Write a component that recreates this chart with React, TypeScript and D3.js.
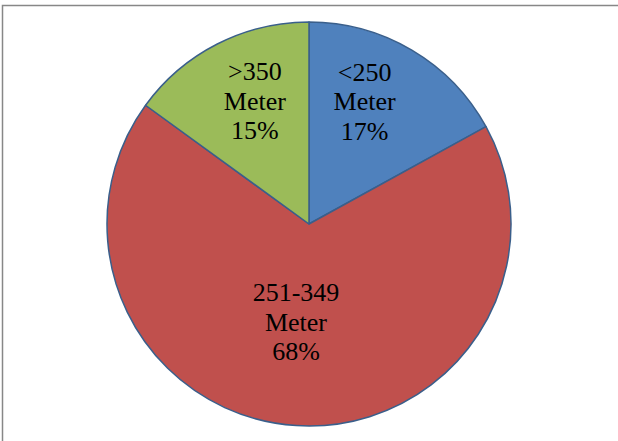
import React from 'react';
import * as d3 from 'd3';

const categories = ['<250 Meter', '251-349 Meter', '>350 Meter'];
const values = [17, 68, 15];
const colors = ['#4f81bd', '#c0504d', '#9bbb59'];

const W = 618;
const H = 441;
const cx = 309;
const cy = 224;
const r = 202;
const FONT = 'Liberation Serif';

export default function App() {
  const pie = d3.pie<number>().sort(null).value((d) => d);
  const arcs = pie(values);
  const arc = d3.arc<d3.PieArcDatum<number>>().innerRadius(0).outerRadius(r);

  // rough "best fit" label placement like Excel
  const labelPos = (a: d3.PieArcDatum<number>) => {
    const raw = (a.startAngle + a.endAngle) / 2;
    const frac = (a.endAngle - a.startAngle) / (2 * Math.PI);
    const big = frac > 0.5;
    let ang: number;
    if (big) {
      ang = raw + (raw - Math.PI) * 1.1;
    } else {
      const mid = raw > Math.PI ? raw - 2 * Math.PI : raw;
      ang = mid * (mid > 0 ? 0.8 : 0.88);
    }
    const k = big ? 0.49 : 0.665;
    return [Math.sin(ang) * r * k, -Math.cos(ang) * r * k];
  };

  const labels: {x: number; y: number; t: string}[] = [];
  arcs.forEach((a, i) => {
    const [x, y] = labelPos(a);
    const parts = categories[i].split(' ');
    [parts[0], parts[1], `${values[i]}%`].forEach((t, j) => {
      labels.push({x, y: y + (j - 1) * 29.5 + 8.5, t});
    });
  });

  return (
    <svg
      width={W}
      height={H}
      style={{position: 'absolute', left: 0, top: 0, background: '#fff'}}
    >
      <rect x={2.5} y={5.5} width={W + 10} height={H + 10} fill="#fff" stroke="#878787" strokeWidth={1.5} />
      <g transform={`translate(${cx},${cy})`}>
        {arcs.map((a, i) => (
          <path
            key={i}
            d={arc(a) || ''}
            fill={colors[i]}
            stroke="#3a5f8b"
            strokeWidth={1.5}
            strokeLinejoin="round"
          />
        ))}
        {labels.map((l, i) => (
          <text
            key={i}
            x={l.x}
            y={l.y}
            textAnchor="middle"
            fontFamily={FONT}
            style={{fontFamily: FONT, fontSize: '26px'}}
            fill="#000"
          >
            {l.t}
          </text>
        ))}
      </g>
    </svg>
  );
}
